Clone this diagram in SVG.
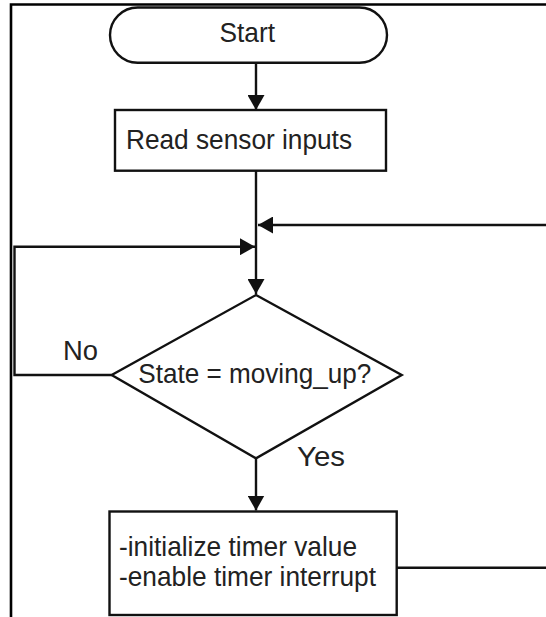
<svg xmlns="http://www.w3.org/2000/svg" width="546" height="617" viewBox="0 0 546 617">
  <style>
    .shape { fill: #ffffff; stroke: #111111; stroke-width: 2.4; }
    .line { fill: none; stroke: #111111; stroke-width: 2.4; }
    .frame { fill: none; stroke: #000000; stroke-width: 2.6; }
    .label { font-family: "Liberation Sans", Arial, sans-serif; font-size: 27.5px; fill: #222222; }
  </style>
  <defs>
    <marker id="arrow" markerUnits="userSpaceOnUse" markerWidth="16" markerHeight="17" refX="15" refY="8.5" orient="auto">
      <polygon points="0,0 15,8.5 0,17" fill="#111111"/>
    </marker>
  </defs>

  <rect width="546" height="617" fill="#ffffff"/>

  <!-- page frame -->
  <path class="frame" d="M546,4.5 H11 V617"/>

  <g id="connectors">
    <!-- Start to Read sensor inputs -->
    <path class="line" d="M256,62.7 V110" marker-end="url(#arrow)"/>
    <!-- Read sensor inputs to decision -->
    <path class="line" d="M256,170.7 V294" marker-end="url(#arrow)"/>
    <!-- return from the right -->
    <path class="line" d="M546,225 H258" marker-end="url(#arrow)"/>
    <!-- No branch loop -->
    <path class="line" d="M111.7,375 H14.5 V246.7 H255" marker-end="url(#arrow)"/>
    <!-- Yes branch -->
    <path class="line" d="M256,458.3 V510.5" marker-end="url(#arrow)"/>
    <!-- out of action box -->
    <path class="line" d="M396.7,567.7 H546"/>
    <text class="label" x="63" y="360" textLength="35" lengthAdjust="spacingAndGlyphs">No</text>
    <text class="label" x="297" y="466" textLength="48" lengthAdjust="spacingAndGlyphs">Yes</text>
  </g>

  <g id="start">
    <rect class="shape" x="110" y="7.5" width="277" height="55.2" rx="27.6" ry="27.6"/>
    <text class="label" x="219.5" y="42" textLength="55.5" lengthAdjust="spacingAndGlyphs">Start</text>
  </g>

  <g id="read-sensors">
    <rect class="shape" x="115" y="110" width="271" height="60.7"/>
    <text class="label" x="126" y="149.3" textLength="226" lengthAdjust="spacingAndGlyphs">Read sensor inputs</text>
  </g>

  <g id="decision">
    <polygon class="shape" points="256,295 401.7,375 256,458.3 111.7,375"/>
    <text class="label" x="138.3" y="383.3" textLength="233" lengthAdjust="spacingAndGlyphs">State = moving_up?</text>
  </g>

  <g id="timer-setup">
    <rect class="shape" x="109.5" y="511.5" width="287.2" height="103.5"/>
    <text class="label" x="119" y="555.5" textLength="238" lengthAdjust="spacingAndGlyphs">-initialize timer value</text>
    <text class="label" x="119" y="586" textLength="257" lengthAdjust="spacingAndGlyphs">-enable timer interrupt</text>
  </g>
</svg>
